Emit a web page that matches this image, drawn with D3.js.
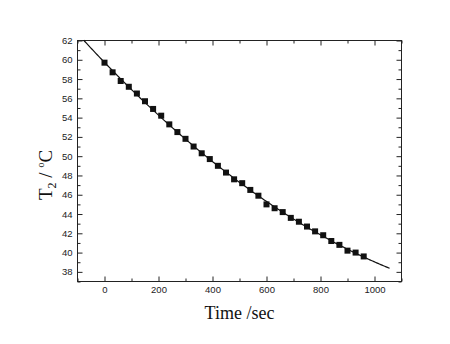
<!DOCTYPE html>
<html>
<head>
<meta charset="utf-8">
<script src="https://cdn.jsdelivr.net/npm/d3@7"></script>
<style>
  html, body { margin: 0; padding: 0; background: #fff; }
  svg { display: block; }
  .tick text { font-family: "Liberation Sans", Arial, sans-serif; font-size: 9.5px; fill: #222; }
  .tick line { stroke: #222; stroke-width: 1; }
  .domain { display: none; }
</style>
</head>
<body>
<svg id="chart" width="450" height="344"></svg>
<script>
// Cooling measurement: temperature T2 sampled every 30 s
const time = [0, 30, 60, 90, 120, 150, 180, 210, 240, 270, 300, 330, 360, 390, 420, 450,
              480, 510, 540, 570, 600, 630, 660, 690, 720, 750, 780, 810, 840, 870, 900, 930, 960];
const temp = [59.7, 58.7, 57.8, 57.2, 56.5, 55.7, 54.9, 54.2, 53.3, 52.5, 51.8, 51.0, 50.3, 49.7, 49.0, 48.3,
              47.6, 47.2, 46.5, 45.9, 45.0, 44.6, 44.2, 43.6, 43.2, 42.7, 42.2, 41.8, 41.2, 40.8, 40.2, 40.0, 39.6];

// Span over which the fitted curve is drawn (seconds)
const fitSpan = [-77, 1056];

// Axis ticks
const xMajor = [0, 200, 400, 600, 800, 1000];
const xMinor = [-100, 100, 300, 500, 700, 900, 1100];
const yMajor = [38, 40, 42, 44, 46, 48, 50, 52, 54, 56, 58, 60, 62];
const yMinor = [37, 39, 41, 43, 45, 47, 49, 51, 53, 55, 57, 59, 61];

const svg = d3.select("#chart");
const L = 77.5, R = 401.5, T = 40.5, B = 281.5;

const x = d3.scaleLinear().domain([-100, 1100]).range([L, R]);
const y = d3.scaleLinear().domain([37, 62]).range([B, T]);

// Least-squares quadratic fit of temperature against time
function quadFit(xs, ys) {
  let s = [0, 0, 0, 0, 0], t = [0, 0, 0];
  xs.forEach((xv, i) => {
    let p = 1;
    for (let k = 0; k < 5; k++) { s[k] += p; if (k < 3) t[k] += p * ys[i]; p *= xv; }
  });
  const A = [[s[0], s[1], s[2], t[0]], [s[1], s[2], s[3], t[1]], [s[2], s[3], s[4], t[2]]];
  for (let c = 0; c < 3; c++) {
    for (let r = c + 1; r < 3; r++) {
      const f = A[r][c] / A[c][c];
      for (let k = c; k < 4; k++) A[r][k] -= f * A[c][k];
    }
  }
  const co = [0, 0, 0];
  for (let r = 2; r >= 0; r--) {
    let v = A[r][3];
    for (let k = r + 1; k < 3; k++) v -= A[r][k] * co[k];
    co[r] = v / A[r][r];
  }
  return tv => co[0] + co[1] * tv + co[2] * tv * tv;
}
const fit = quadFit(time, temp);
const fitTimes = d3.range(fitSpan[0], fitSpan[1], 5).concat([fitSpan[1]]);

// Axes with inward ticks on all four sides
function addAxis(axisFn, scale, values, size, transform, labels) {
  const ax = axisFn(scale).tickValues(values).tickSize(-size).tickPadding(5);
  if (!labels) ax.tickFormat("");
  else ax.tickFormat(d3.format("d"));
  svg.append("g").attr("transform", transform).call(ax);
}
addAxis(d3.axisBottom, x, xMajor, 5, `translate(0,${B})`, true);
addAxis(d3.axisBottom, x, xMinor, 3, `translate(0,${B})`, false);
addAxis(d3.axisTop, x, xMajor, 5, `translate(0,${T})`, false);
addAxis(d3.axisTop, x, xMinor, 3, `translate(0,${T})`, false);
addAxis(d3.axisLeft, y, yMajor, 5, `translate(${L},0)`, true);
addAxis(d3.axisLeft, y, yMinor, 3, `translate(${L},0)`, false);
addAxis(d3.axisRight, y, yMajor, 5, `translate(${R},0)`, false);
addAxis(d3.axisRight, y, yMinor, 3, `translate(${R},0)`, false);

// Frame
svg.append("rect")
  .attr("x", L).attr("y", T).attr("width", R - L).attr("height", B - T)
  .attr("fill", "none").attr("stroke", "#222").attr("stroke-width", 1);

// Fitted curve
svg.append("path")
  .datum(fitTimes)
  .attr("fill", "none").attr("stroke", "#111").attr("stroke-width", 1.2)
  .attr("d", d3.line().x(d => x(d)).y(d => y(fit(d))));

// Measured points
svg.append("g").selectAll("rect")
  .data(time)
  .join("rect")
  .attr("x", (d) => x(d) - 3)
  .attr("y", (d, i) => y(temp[i]) - 3)
  .attr("width", 6).attr("height", 6)
  .attr("fill", "#111");

// Axis titles
svg.append("text")
  .attr("x", (L + R) / 2).attr("y", 319)
  .attr("text-anchor", "middle")
  .attr("font-family", "'Liberation Serif', 'Times New Roman', serif")
  .attr("font-size", 18).attr("fill", "#111")
  .text("Time /sec");

const yt = svg.append("text")
  .attr("transform", "translate(52,200) rotate(-90)")
  .attr("font-family", "'Liberation Serif', 'Times New Roman', serif")
  .attr("font-size", 19).attr("fill", "#111");
yt.append("tspan").text("T");
yt.append("tspan").attr("font-size", 12).attr("dy", 4).text("2");
yt.append("tspan").attr("dy", -4).text(" / ");
yt.append("tspan").attr("font-size", 10).attr("dy", -8).text("o");
yt.append("tspan").attr("dy", 8).text("C");
</script>
</body>
</html>
